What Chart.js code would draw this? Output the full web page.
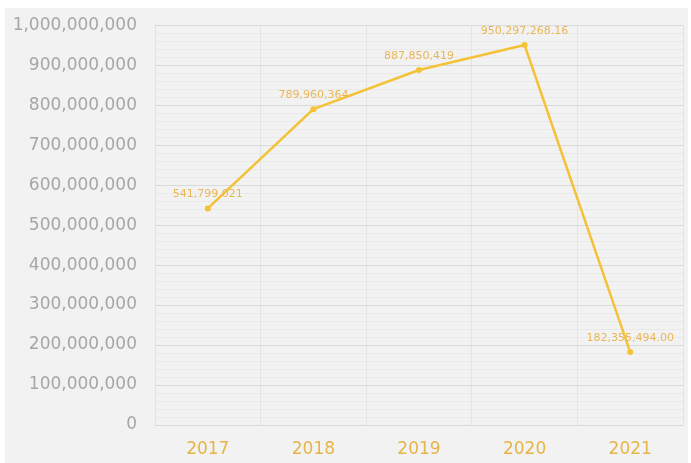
<!DOCTYPE html>
<html>
<head>
<meta charset="utf-8">
<script src="https://cdn.jsdelivr.net/npm/chart.js@4"></script>
<style>
  html, body { margin: 0; padding: 0; background: #ffffff; }
  #quadro { position: absolute; left: 5px; top: 8px; width: 683px; height: 455px; background: #f2f2f2; overflow: hidden; }
  #quadro canvas { display: block; margin-top: -11px; }
</style>
</head>
<body>
<div id="quadro"><canvas id="grafico" width="683" height="466"></canvas></div>
<script>
  const anos = ['2017', '2018', '2019', '2020', '2021'];
  const valores = [541799021, 789960364, 887850419, 950297268.16, 182355494.0];
  const rotulosValores = ['541,799,021', '789,960,364', '887,850,419', '950,297,268.16', '182,355,494.00'];

  const COR_LINHA = '#f4c236';
  const COR_ROTULO = '#ebb655';
  const fmt = new Intl.NumberFormat('en-US');

  // rótulos de valor acima de cada ponto (sem plugin externo)
  const rotulosPlugin = {
    id: 'rotulosValores',
    afterDatasetsDraw(chart) {
      const { ctx } = chart;
      const meta = chart.getDatasetMeta(0);
      ctx.save();
      ctx.font = '11px "DejaVu Sans"';
      ctx.fillStyle = COR_ROTULO;
      ctx.textAlign = 'center';
      ctx.textBaseline = 'middle';
      meta.data.forEach((pt, i) => ctx.fillText(rotulosValores[i], pt.x, pt.y - 14));
      ctx.restore();
    },
  };

  new Chart(document.getElementById('grafico'), {
    type: 'line',
    data: {
      labels: anos,
      datasets: [{
        data: valores,
        borderColor: COR_LINHA,
        backgroundColor: COR_LINHA,
        borderWidth: 2.5,
        pointRadius: 3,
        pointBorderWidth: 0,
        tension: 0,
      }],
    },
    options: {
      responsive: false,
      animation: false,
      layout: { padding: { top: 5, right: 5, left: 0, bottom: 0 } },
      plugins: { legend: { display: false }, tooltip: { enabled: false } },
      scales: {
        x: {
          offset: true,
          grid: { offset: true, color: '#e3e3e3', drawTicks: false },
          border: { display: false },
          ticks: { color: '#e6b447', font: { family: 'DejaVu Sans', size: 17 }, padding: 14 },
          afterFit: (s) => { s.height = 38; },
        },
        y: {
          min: 0,
          max: 1000000000,
          ticks: {
            stepSize: 20000000,
            autoSkip: false,
            color: '#a6a6a6',
            font: { family: 'DejaVu Sans', size: 17 },
            padding: 18,
            callback: (v) => (v % 100000000 === 0 ? fmt.format(v) : ''),
          },
          grid: {
            drawTicks: false,
            color: (c) => (c.tick && c.tick.value % 100000000 === 0 ? '#d9d9d9' : '#e9e9e9'),
          },
          border: { display: false },
          afterFit: (s) => { s.width = 150; },
        },
      },
    },
    plugins: [rotulosPlugin],
  });
</script>
</body>
</html>
